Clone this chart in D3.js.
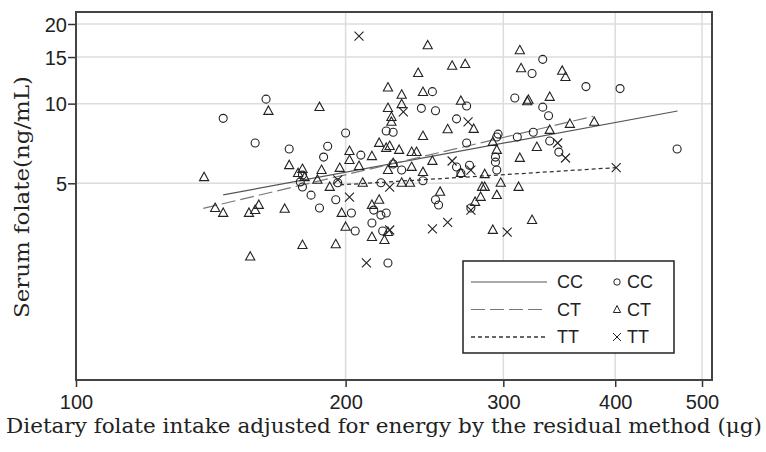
<!DOCTYPE html>
<html><head><meta charset="utf-8">
<script src="https://cdn.jsdelivr.net/npm/d3@7"></script>
<style>body{margin:0;background:#fff}svg{display:block}</style>
</head><body><svg id="chart" width="766" height="452"></svg>
<script>
const xTicks=[100,200,300,400,500];
const yTicks=[5,10,15,20];
const genotypes=["CC","CT","TT"];
// CC (circles)
const ccX=[146,163,158.5,173,191,189,200,208,222,332,323,371,405,250,309,332,273,243,252,337,266,226,324,296,311,295,273,338,346,469,294,294,266,275,226,231,244,269,295,252,254,276,222,223,179,178,179,183,187,195,196,219,203,215,219,214,205,220];
const ccY=[8.8,10.4,7.1,6.74,6.9,6.28,7.74,6.39,7.88,14.7,13.0,11.6,11.4,11.1,10.5,9.7,9.8,9.6,9.4,9.0,8.76,7.8,7.8,7.67,7.48,7.48,7.1,7.22,6.56,6.74,6.28,6.01,5.76,5.85,5.91,5.61,5.11,5.46,5.61,4.33,4.14,4.03,3.86,2.5,5.37,5.06,4.84,4.51,4.03,4.33,5.02,5.02,3.86,3.96,3.79,3.54,3.3,3.3];
// CT (triangles)
const ctX=[223,164,187,223,218,202,214,202,207,173,179,188,197,222,247,313,263,272,314,349,352,241,231,244,338,319,269,231,225,225,278,260,356,379,338,327,244,292,295,313,224,229.5,237,240,250,237,226,223,244,269,286,231,236,255,284,286,298,312,295,283,279,323,292,223,221,139,177,180,186,192,209,198,143,146,156,158.5,160,171,214,218,200,214,179,195,156.5,320];
const ctY=[11.5,9.38,9.7,9.62,7.1,6.62,6.33,6.12,5.81,5.85,5.66,5.61,5.71,6.8,16.6,15.9,13.9,14.1,13.6,13.3,12.6,13.05,10.8,11.06,10.6,10.2,10.24,9.95,8.9,8.53,8.02,8.0,8.38,8.53,7.95,6.85,7.54,7.16,6.68,6.23,6.91,6.68,6.56,6.56,6.07,5.76,5.96,5.61,5.51,5.46,5.41,5.02,5.02,4.64,4.84,4.84,5.02,4.84,4.51,4.44,4.25,3.63,3.33,3.27,3.05,5.27,5.46,5.27,5.15,4.84,5.02,3.86,4.03,3.86,3.86,3.96,4.14,4.0,4.14,4.33,3.42,3.13,2.92,2.94,2.64,10.33];
// TT (crosses)
const ttX=[207,232,274,345,352,263,276,401,224,196,202,276,260,250,303,224,211];
const ttY=[18.0,9.3,8.53,7.1,6.23,6.07,5.61,5.73,4.84,5.15,4.43,3.96,3.56,3.36,3.27,3.33,2.5];
// fitted regression lines (end points)
const ccLineX=[146,469.5], ccLineY=[4.52,9.38];
const ctLineX=[138.7,378], ctLineY=[4.02,8.96];
const ttLineX=[197.2,401], ttLineY=[4.93,5.73];

const svg=d3.select("#chart");
const L=76,R=712,T=12,B=380;
const x=d3.scaleLog().domain([100,513]).range([L,R]);
const y=d3.scaleLog().domain([0.9025,22.2]).range([B,T]);
const ink="#222";

// gridlines
svg.append("g").selectAll("line").data(xTicks.slice(1)).join("line")
  .attr("x1",d=>x(d)).attr("x2",d=>x(d)).attr("y1",T).attr("y2",B)
  .attr("stroke","#dcdcdc").attr("stroke-width",1.5);
svg.append("g").selectAll("line").data(yTicks).join("line")
  .attr("x1",L).attr("x2",R).attr("y1",d=>y(d)).attr("y2",d=>y(d))
  .attr("stroke","#dcdcdc").attr("stroke-width",1.5);

// axes
const xAxis=d3.axisBottom(x).tickValues(xTicks).tickFormat(d3.format("d")).tickSize(7).tickSizeOuter(0);
const gx=svg.append("g").attr("transform",`translate(0,${B})`).call(xAxis);
gx.select(".domain").remove();
gx.selectAll("line").attr("stroke","#333").attr("stroke-width",1.5);
gx.selectAll("text").attr("font-family","Liberation Sans, Arial, sans-serif").attr("font-size",20).attr("fill","#222").attr("dy",null).attr("y",29);
const yAxis=d3.axisLeft(y).tickValues(yTicks).tickFormat(d3.format("d")).tickSize(8).tickSizeOuter(0);
const gy=svg.append("g").attr("transform",`translate(${L},0)`).call(yAxis);
gy.select(".domain").remove();
gy.selectAll("line").attr("stroke","#333").attr("stroke-width",1.5);
gy.selectAll("text").attr("font-family","Liberation Sans, Arial, sans-serif").attr("font-size",20).attr("fill","#222").attr("x",-9).attr("dy","0.36em");

// frame
svg.append("rect").attr("x",L).attr("y",T).attr("width",R-L).attr("height",B-T)
  .attr("fill","none").attr("stroke","#444").attr("stroke-width",2);

// regression lines
const lineGen=d3.line().x(d=>x(d[0])).y(d=>y(d[1]));
const lines=[
  {xs:ccLineX,ys:ccLineY,dash:null,color:"#555",w:1.2},
  {xs:ctLineX,ys:ctLineY,dash:"14,5",color:"#777",w:1.2},
  {xs:ttLineX,ys:ttLineY,dash:"4,3",color:"#333",w:1.3}
];
lines.forEach(l=>{
  svg.append("path").datum(d3.zip(l.xs,l.ys)).attr("d",lineGen)
    .attr("fill","none").attr("stroke",l.color).attr("stroke-width",l.w)
    .attr("stroke-dasharray",l.dash);
});

// markers
const tri="M0,-5L4.6,3.4L-4.6,3.4Z";
const crs="M-4.5,-4.5L4.5,4.5M-4.5,4.5L4.5,-4.5";
const pg=svg.append("g");
pg.selectAll("circle.cc").data(d3.zip(ccX,ccY)).join("circle").attr("class","cc")
  .attr("cx",d=>x(d[0])).attr("cy",d=>y(d[1])).attr("r",4)
  .attr("fill","none").attr("stroke",ink).attr("stroke-width",1.1);
pg.selectAll("path.ct").data(d3.zip(ctX,ctY)).join("path").attr("class","ct")
  .attr("transform",d=>`translate(${x(d[0])},${y(d[1])})`).attr("d",tri)
  .attr("fill","none").attr("stroke",ink).attr("stroke-width",1.1);
pg.selectAll("path.tt").data(d3.zip(ttX,ttY)).join("path").attr("class","tt")
  .attr("transform",d=>`translate(${x(d[0])},${y(d[1])})`).attr("d",crs)
  .attr("fill","none").attr("stroke",ink).attr("stroke-width",1.1);

// legend
const lg=svg.append("g");
lg.append("rect").attr("x",463).attr("y",261).attr("width",211).attr("height",92)
  .attr("fill","#fff").attr("stroke","#222").attr("stroke-width",1.5);
genotypes.forEach((g,i)=>{
  const cy=282+i*27.5;
  lg.append("line").attr("x1",471).attr("x2",547).attr("y1",cy).attr("y2",cy)
    .attr("stroke",lines[i].color).attr("stroke-width",lines[i].w).attr("stroke-dasharray",lines[i].dash);
  lg.append("text").attr("x",557).attr("y",cy).attr("dy","0.36em").text(g)
    .attr("font-family","Liberation Sans, Arial, sans-serif").attr("font-size",18).attr("fill","#222");
  lg.append("text").attr("x",627).attr("y",cy).attr("dy","0.36em").text(g)
    .attr("font-family","Liberation Sans, Arial, sans-serif").attr("font-size",18).attr("fill","#222");
});
lg.append("circle").attr("cx",617).attr("cy",282).attr("r",3.2).attr("fill","none").attr("stroke",ink);
lg.append("path").attr("transform","translate(617,309.5)").attr("d","M0,-4L3.6,3L-3.6,3Z").attr("fill","none").attr("stroke",ink);
lg.append("path").attr("transform","translate(617,337)").attr("d","M-4,-4L4,4M-4,4L4,-4").attr("fill","none").attr("stroke",ink);

// axis titles
svg.append("text").attr("x",6).attr("y",433).text("Dietary folate intake adjusted for energy by the residual method (μg)")
  .attr("font-family","DejaVu Serif, Liberation Serif, serif").attr("font-size",20).attr("fill","#222")
  .attr("textLength",756).attr("lengthAdjust","spacingAndGlyphs");
svg.append("text").attr("transform","translate(29,318) rotate(-90)").text("Serum folate(ng/mL)")
  .attr("font-family","DejaVu Serif, Liberation Serif, serif").attr("font-size",20).attr("fill","#222")
  .attr("textLength",242).attr("lengthAdjust","spacingAndGlyphs");
</script></body></html>
